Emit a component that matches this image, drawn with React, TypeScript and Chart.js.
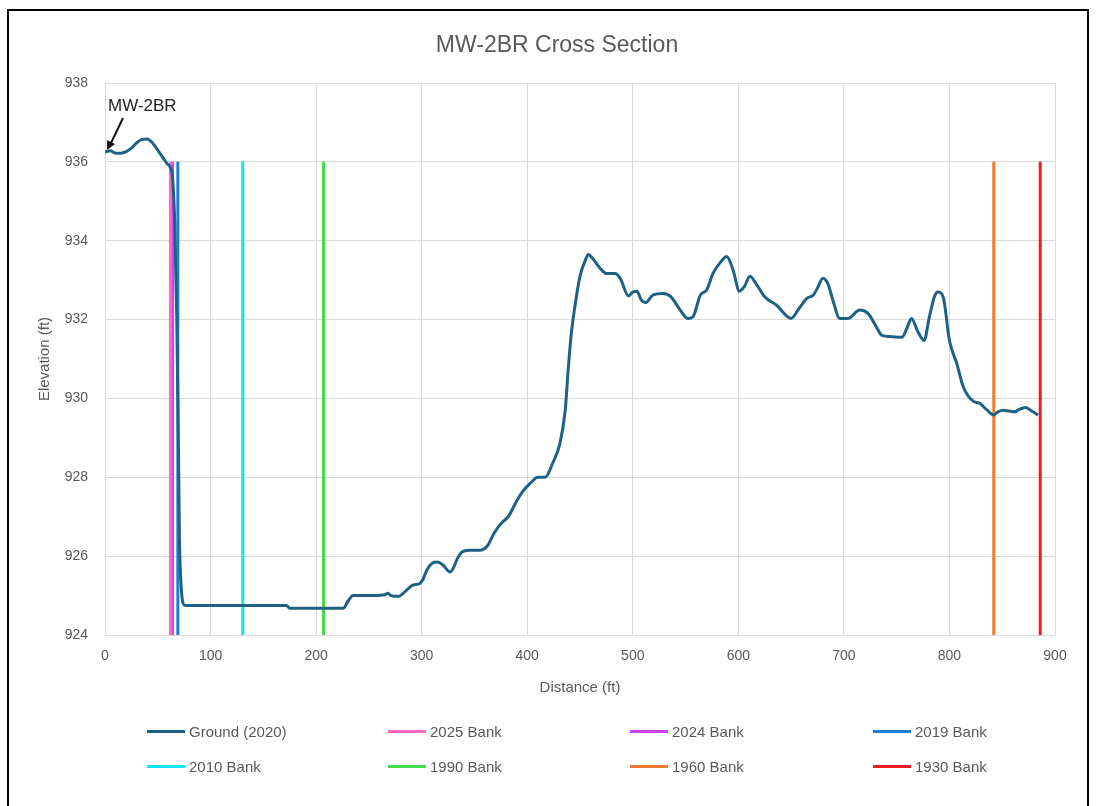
import React, { useEffect, useRef } from "react";
import { Chart, registerables } from "chart.js";

Chart.register(...registerables);

// ---- Data ----
const chartTitle = "MW-2BR Cross Section";
const xAxisTitle = "Distance (ft)";
const yAxisTitle = "Elevation (ft)";
const wellLabel = "MW-2BR";

const groundLabel = "Ground (2020)";
const groundDistance = [
  0, 5, 10, 15, 20, 25, 30, 35, 40, 45, 50, 55, 59, 62, 64, 66, 68, 69.5, 70.5, 72, 74, 76,
  172, 175, 226, 230, 235, 255, 265, 268, 271, 278, 285, 292, 298, 301, 305, 310, 315, 320,
  327, 330, 334, 338, 345, 355, 362, 369, 376, 382, 390, 396, 403, 410, 417, 424, 431, 436,
  439, 442, 445, 450, 455, 458, 462, 469, 475, 483, 488, 496, 500, 504, 508, 512, 519, 529,
  536, 545, 552, 557, 564, 570, 576, 583, 589, 595, 601, 606, 611, 617, 625, 636, 650, 658,
  665, 671, 675, 680, 685, 690, 696, 704, 715, 723, 730, 736, 744, 755, 760, 764, 770, 776,
  781, 786, 789, 794, 800, 807, 813, 818, 823, 829, 835, 842, 846, 851, 856, 862, 866, 872,
  878, 884,
];
const groundElevation = [
  936.25, 936.28, 936.22, 936.22, 936.26, 936.35, 936.48, 936.57, 936.58, 936.48, 936.3, 936.1,
  935.95, 935.85, 935.6, 934.5, 932.0, 929.0, 926.5, 925.3, 924.8, 924.75,
  924.75, 924.68, 924.68, 924.85, 925.0, 925.0, 925.02, 925.06, 925.0, 924.98, 925.12, 925.27,
  925.3, 925.4, 925.65, 925.82, 925.85, 925.78, 925.6, 925.7, 925.95, 926.1, 926.15, 926.15,
  926.25, 926.6, 926.85, 927.0, 927.4, 927.65, 927.85, 928.0, 928.0, 928.35, 928.86, 929.7,
  930.8, 931.7, 932.3, 933.1, 933.5, 933.65, 933.55, 933.3, 933.17, 933.17, 933.05, 932.6,
  932.7, 932.72, 932.5, 932.43, 932.62, 932.66, 932.58, 932.24, 932.03, 932.07, 932.62, 932.75,
  933.17, 933.45, 933.6, 933.26, 932.72, 932.85, 933.1, 932.9, 932.58, 932.37, 932.03, 932.3,
  932.54, 932.62, 932.8, 933.05, 932.9, 932.45, 932.03, 932.03, 932.24, 932.15, 931.85, 931.6,
  931.57, 931.55, 931.8, 932.03, 931.7, 931.47, 932.07, 932.6, 932.7, 932.58, 931.47, 930.88,
  930.3, 930.05, 929.92, 929.87, 929.72, 929.58, 929.66, 929.7, 929.68, 929.66, 929.72, 929.77,
  929.68, 929.58,
];

const bankLabels = ["2025 Bank", "2024 Bank", "2019 Bank", "2010 Bank", "1990 Bank", "1960 Bank", "1930 Bank"];
const bankDistance = [62, 64, 69, 130.5, 207, 842, 886];
const bankBottom = 924;
const bankTop = 936;

const xMin = 0;
const xMax = 900;
const xStep = 100;
const yMin = 924;
const yMax = 938;
const yStep = 2;

// ---- Styles ----
const groundColor = "#1d6185";
const bankColors = ["#ff66c4", "#cc44ee", "#1c7fd6", "#11e4f4", "#44dd4c", "#f07a30", "#ee1c1c"];
const textColor = "#595959";
const gridColor = "#d9d9d9";
const FONT = "'Liberation Sans', Arial, sans-serif";

const titlePlugin = {
  id: "centeredTitle",
  afterDraw(chart: any) {
    const { ctx } = chart;
    ctx.save();
    ctx.fillStyle = textColor;
    ctx.font = `23px ${FONT}`;
    ctx.textAlign = "center";
    ctx.textBaseline = "middle";
    ctx.fillText(chartTitle, 557, 46);
    ctx.restore();
  },
};

const annotationPlugin = {
  id: "wellAnnotation",
  afterDatasetsDraw(chart: any) {
    const { ctx, scales } = chart;
    const px = scales.x.getPixelForValue(groundDistance[0]);
    const py = scales.y.getPixelForValue(groundElevation[0]);
    ctx.save();
    ctx.fillStyle = "#222222";
    ctx.font = `17px ${FONT}`;
    ctx.textAlign = "left";
    ctx.textBaseline = "alphabetic";
    ctx.fillText(wellLabel, px + 3, py - 41);
    // arrow
    const tx = px + 18, ty = py - 34;
    const hx = px + 2, hy = py - 2;
    ctx.strokeStyle = "#111111";
    ctx.lineWidth = 2;
    ctx.beginPath();
    ctx.moveTo(tx, ty);
    ctx.lineTo(hx + 4, hy - 7);
    ctx.stroke();
    const ang = Math.atan2(hy - ty, hx - tx);
    const len = 10;
    ctx.fillStyle = "#111111";
    ctx.beginPath();
    ctx.moveTo(hx, hy);
    ctx.lineTo(hx - len * Math.cos(ang - 0.45), hy - len * Math.sin(ang - 0.45));
    ctx.lineTo(hx - len * Math.cos(ang + 0.45), hy - len * Math.sin(ang + 0.45));
    ctx.closePath();
    ctx.fill();
    ctx.restore();
  },
};

export default function App() {
  const ref = useRef<HTMLCanvasElement | null>(null);

  useEffect(() => {
    if (!ref.current) return;
    const datasets: any[] = [
      {
        label: groundLabel,
        data: groundDistance.map((d, i) => ({ x: d, y: groundElevation[i] })),
        borderColor: groundColor,
        backgroundColor: groundColor,
        borderWidth: 3,
        pointRadius: 0,
        cubicInterpolationMode: "monotone",
        order: 0,
      },
      ...bankLabels.map((label, i) => ({
        label,
        data: [
          { x: bankDistance[i], y: bankBottom },
          { x: bankDistance[i], y: bankTop },
        ],
        borderColor: bankColors[i],
        backgroundColor: bankColors[i],
        borderWidth: 3,
        pointRadius: 0,
        order: 1,
      })),
    ];

    const chart = new Chart(ref.current, {
      type: "line",
      data: { datasets },
      plugins: [annotationPlugin, titlePlugin],
      options: {
        animation: false,
        responsive: false,
        devicePixelRatio: 1,
        layout: { padding: { left: 30, right: 41, top: 83, bottom: 0 } },
        plugins: {
          legend: { display: false },
          tooltip: { enabled: false },
          title: { display: false },
        },
        scales: {
          x: {
            type: "linear",
            min: xMin,
            max: xMax,
            ticks: { stepSize: xStep, color: textColor, font: { family: FONT, size: 14 }, padding: 13 },
            grid: { color: gridColor, drawTicks: false },
            border: { color: gridColor },
            title: {
              display: true,
              text: xAxisTitle,
              color: textColor,
              font: { family: FONT, size: 15 },
              padding: { top: 4, bottom: 8 },
            },
            afterFit(scale: any) {
              scale.height = 70;
            },
          },
          y: {
            type: "linear",
            min: yMin,
            max: yMax,
            ticks: { stepSize: yStep, color: textColor, font: { family: FONT, size: 14 }, padding: 17 },
            grid: { color: gridColor, drawTicks: false },
            border: { color: gridColor },
            title: {
              display: true,
              text: yAxisTitle,
              color: textColor,
              font: { family: FONT, size: 15 },
              padding: { top: 6, bottom: 4 },
            },
            afterFit(scale: any) {
              scale.width = 75;
            },
          },
        },
      },
    });
    return () => chart.destroy();
  }, []);

  const legendItems = [groundLabel, ...bankLabels];
  const legendColors = [groundColor, ...bankColors];
  const colX = [147, 388, 630, 873];
  const rowY = [731, 766];

  return (
    <div style={{ position: "absolute", left: 0, top: 0, width: 1096, height: 806, background: "#fff", overflow: "hidden" }}>
      <canvas ref={ref} width={1096} height={705} style={{ position: "absolute", left: 0, top: 0, width: 1096, height: 705 }} />
      <div
        style={{
          position: "absolute",
          left: 7,
          top: 9,
          width: 1078,
          height: 820,
          borderLeft: "2px solid #000",
          borderTop: "2px solid #000",
          borderRight: "2px solid #000",
          pointerEvents: "none",
        }}
      />
      {legendItems.map((label, i) => (
        <div
          key={label}
          style={{
            position: "absolute",
            left: colX[i % 4],
            top: rowY[Math.floor(i / 4)] - 10,
            height: 20,
            display: "flex",
            alignItems: "center",
            fontFamily: FONT,
            fontSize: 15,
            color: textColor,
            whiteSpace: "nowrap",
          }}
        >
          <span style={{ display: "inline-block", width: 38, height: 3, background: legendColors[i], marginRight: 4 }} />
          <span>{label}</span>
        </div>
      ))}
    </div>
  );
}
